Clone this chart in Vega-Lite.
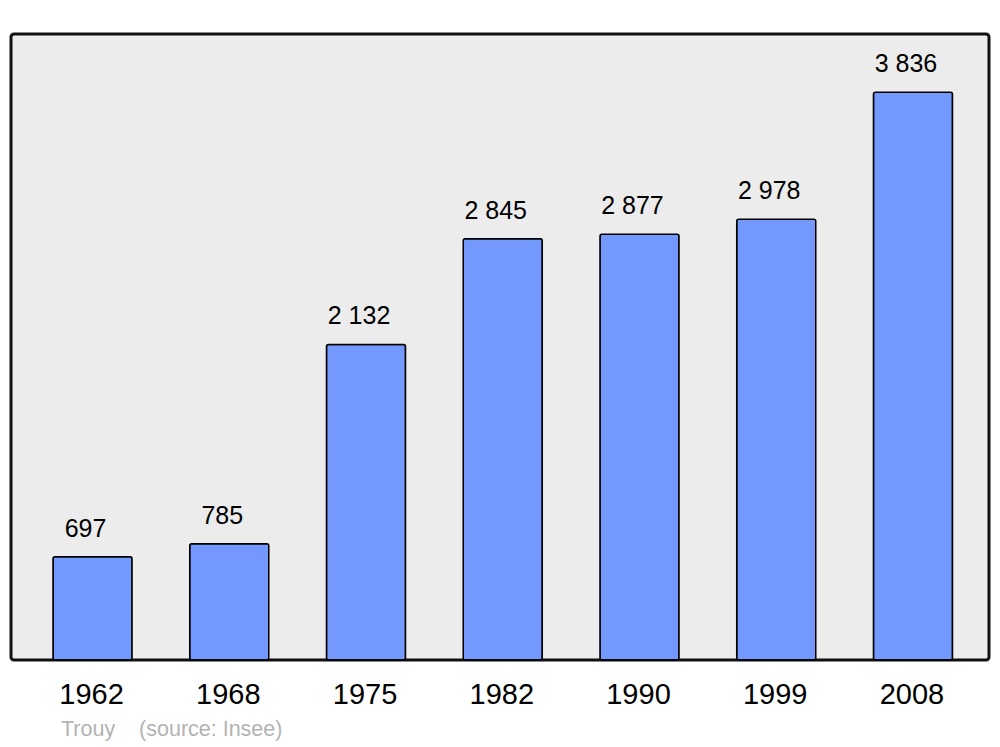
{
  "$schema": "https://vega.github.io/schema/vega-lite/v6.json",
  "autosize": {"type": "none"},
  "padding": {"left": 11, "top": 34, "right": 11, "bottom": 87},
  "width": 978,
  "height": 626,
  "background": "white",
  "data": {
    "values": [
      {"year": "1962", "population": 697},
      {"year": "1968", "population": 785},
      {"year": "1975", "population": 2132},
      {"year": "1982", "population": 2845},
      {"year": "1990", "population": 2877},
      {"year": "1999", "population": 2978},
      {"year": "2008", "population": 3836}
    ]
  },
  "title": {
    "text": "Trouy\u00a0\u00a0\u00a0\u00a0(source: Insee)",
    "orient": "bottom",
    "anchor": "start",
    "frame": "group",
    "dx": 50,
    "offset": 10,
    "font": "Liberation Sans",
    "fontSize": 21.5,
    "fontWeight": "normal",
    "color": "#b3b3b3"
  },
  "encoding": {
    "x": {
      "field": "year",
      "type": "nominal",
      "sort": null,
      "scale": {"paddingInner": 0.422, "paddingOuter": 0.287, "align": 0.535},
      "axis": {
        "title": null,
        "labelAngle": 0,
        "ticks": false,
        "domain": false,
        "labelFont": "Liberation Sans",
        "labelFontSize": 29,
        "labelColor": "black",
        "labelPadding": 20,
        "labelOffset": -1
      }
    },
    "y": {
      "field": "population",
      "type": "quantitative",
      "scale": {"domain": [0, 4229], "nice": false},
      "axis": null
    }
  },
  "layer": [
    {
      "mark": {
        "type": "bar",
        "fill": "#7399ff",
        "stroke": "black",
        "strokeWidth": 1.5,
        "cornerRadius": 2
      }
    },
    {
      "mark": {
        "type": "text",
        "baseline": "alphabetic",
        "dy": -20,
        "dx": -7,
        "font": "Liberation Sans",
        "fontSize": 25,
        "color": "black"
      },
      "encoding": {
        "text": {"field": "population", "type": "quantitative", "format": ",d"}
      }
    }
  ],
  "config": {
    "locale": {
      "number": {"decimal": ",", "thousands": "\u00a0", "grouping": [3], "currency": ["", "\u00a0€"]}
    },
    "view": {
      "fill": "#ececec",
      "stroke": "#111111",
      "strokeWidth": 3,
      "cornerRadius": 3
    }
  }
}
